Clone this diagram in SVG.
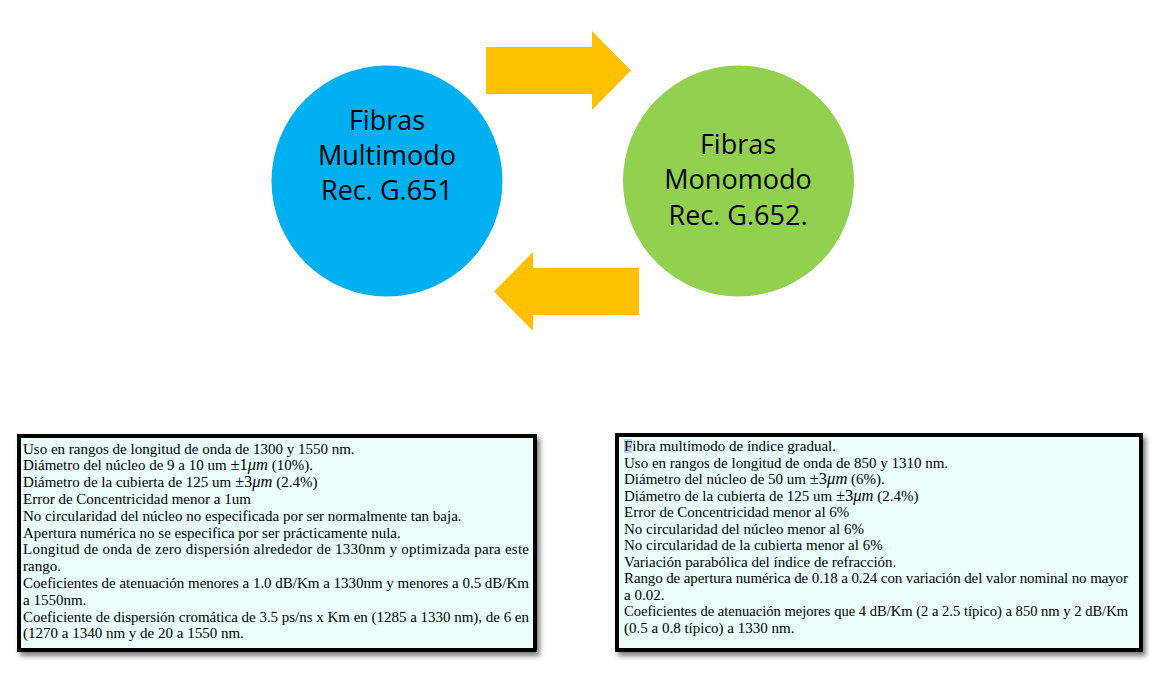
<svg xmlns="http://www.w3.org/2000/svg" width="1153" height="682" viewBox="0 0 1153 682">
  <defs>
    <filter id="shadow" x="-5%" y="-5%" width="112%" height="115%">
      <feDropShadow dx="3" dy="4" stdDeviation="2.5" flood-color="#000" flood-opacity="0.5"/>
    </filter>
  </defs>
  <style>
    .circle-label { font-family: "Open Sans", "Noto Sans", sans-serif; font-size: 27px; fill: #000; text-anchor: middle; }
    .box { fill: #EBFFFF; stroke: #000; stroke-width: 4; }
    .body { font-family: "Liberation Serif", "Times New Roman", serif; font-size: 15px; fill: #000; }
    .pm { font-size: 16.5px; }
    .math { font-style: italic; font-size: 16.5px; }
    .arrow { fill: #FFC000; }
  </style>
  <rect width="1153" height="682" fill="#FFFFFF"/>

  <g id="connectors">
    <polygon class="arrow" points="486,47 592,47 592,31 631,70.5 592,110 592,94 486,94"/>
    <polygon class="arrow" points="639,268 533,268 533,252 494,291.5 533,331 533,315 639,315"/>
  </g>

  <g id="node-multimodo">
    <circle cx="387" cy="181" r="115.5" fill="#00B0F0"/>
    <text class="circle-label" x="387" y="130">Fibras</text>
    <text class="circle-label" x="387" y="165">Multimodo</text>
    <text class="circle-label" x="387" y="200">Rec. G.651</text>
  </g>

  <g id="node-monomodo">
    <circle cx="738.5" cy="181" r="115.5" fill="#92D050"/>
    <text class="circle-label" x="738" y="154">Fibras</text>
    <text class="circle-label" x="738" y="189">Monomodo</text>
    <text class="circle-label" x="738" y="225">Rec. G.652.</text>
  </g>

  <g id="box-g652">
    <rect class="box" x="19" y="436" width="516" height="214" filter="url(#shadow)"/>
    <text class="body" x="23" y="453.5">Uso en rangos de longitud de onda de 1300 y 1550 nm.</text>
    <text class="body" x="23" y="470.3">Diámetro del núcleo de 9 a 10 um <tspan class="pm">±1</tspan><tspan class="math">μm</tspan> (10%).</text>
    <text class="body" x="23" y="487.1">Diámetro de la cubierta de 125 um <tspan class="pm">±3</tspan><tspan class="math">μm</tspan> (2.4%)</text>
    <text class="body" x="23" y="503.9">Error de Concentricidad menor a 1um</text>
    <text class="body" x="23" y="520.7">No circularidad del núcleo no especificada por ser normalmente tan baja.</text>
    <text class="body" x="23" y="537.5">Apertura numérica no se especifica por ser prácticamente nula.</text>
    <text class="body" x="23" y="554.3" textLength="506" lengthAdjust="spacing">Longitud de onda de zero dispersión alrededor de 1330nm y optimizada para este</text>
    <text class="body" x="23" y="571.1">rango.</text>
    <text class="body" x="23" y="587.9" textLength="506" lengthAdjust="spacing">Coeficientes de atenuación menores a 1.0 dB/Km a 1330nm y menores a 0.5 dB/Km</text>
    <text class="body" x="23" y="604.7">a 1550nm.</text>
    <text class="body" x="23" y="621.5" textLength="506" lengthAdjust="spacing">Coeficiente de dispersión cromática de 3.5 ps/ns x Km en (1285 a 1330 nm), de 6 en</text>
    <text class="body" x="23" y="638.3">(1270 a 1340 nm y de 20 a 1550 nm.</text>
  </g>

  <g id="box-g651">
    <rect class="box" x="617" y="435" width="524" height="215" filter="url(#shadow)"/>
    <rect x="624" y="439" width="8" height="14" fill="#A9C9EE" opacity="0.8"/>
    <text class="body" x="624" y="451">Fibra multimodo de índice gradual.</text>
    <text class="body" x="624" y="467.5">Uso en rangos de longitud de onda de 850 y 1310 nm.</text>
    <text class="body" x="624" y="484">Diámetro del núcleo de 50 um <tspan class="pm">±3</tspan><tspan class="math">μm</tspan> (6%).</text>
    <text class="body" x="624" y="500.5">Diámetro de la cubierta de 125 um <tspan class="pm">±3</tspan><tspan class="math">μm</tspan> (2.4%)</text>
    <text class="body" x="624" y="517">Error de Concentricidad menor al 6%</text>
    <text class="body" x="624" y="533.5">No circularidad del núcleo menor al 6%</text>
    <text class="body" x="624" y="550">No circularidad de la cubierta menor al 6%</text>
    <text class="body" x="624" y="566.5">Variación parabólica del índice de refracción.</text>
    <text class="body" x="624" y="583" textLength="504" lengthAdjust="spacing">Rango de apertura numérica de 0.18 a 0.24 con variación del valor nominal no mayor</text>
    <text class="body" x="624" y="599.5">a 0.02.</text>
    <text class="body" x="624" y="616" textLength="504" lengthAdjust="spacingAndGlyphs">Coeficientes de atenuación mejores que 4 dB/Km (2 a 2.5 típico) a 850 nm y 2 dB/Km</text>
    <text class="body" x="624" y="632.5">(0.5 a 0.8 típico) a 1330 nm.</text>
  </g>
</svg>
